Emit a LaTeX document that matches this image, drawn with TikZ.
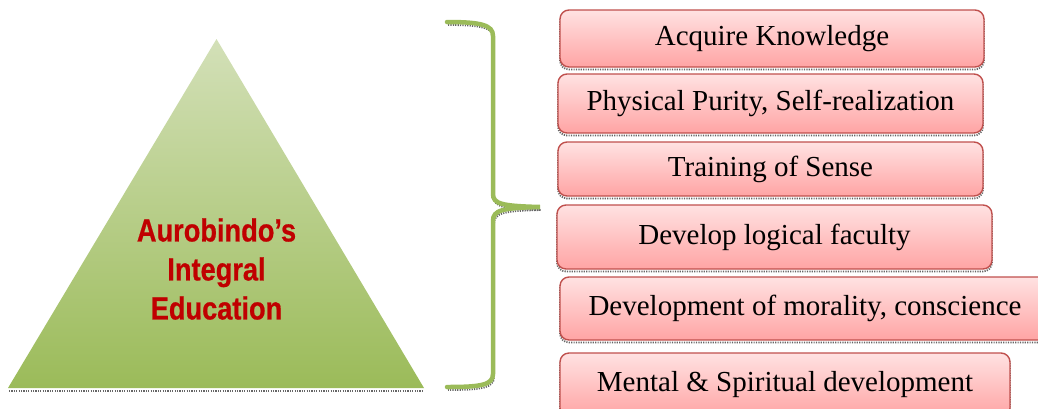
\documentclass[tikz,border=0pt]{standalone}
\usepackage{fontspec}
\setmainfont{Liberation Serif}
\newfontfamily\pyrfont[FakeStretch=0.85, FakeBold=0.6]{Liberation Sans}
\usepackage{xcolor}
\usetikzlibrary{positioning}

\definecolor{leafgreen}{HTML}{9BBB59}
\definecolor{leaflight}{HTML}{D3E0B8}
\definecolor{boxred}{HTML}{C0504D}
\definecolor{boxtop}{HTML}{FFE2E2}
\definecolor{boxbottom}{HTML}{FFA4A4}
\definecolor{titlered}{HTML}{C00000}

\tikzset{
  shadow dots/.style={draw=black!60, line width=1.8pt, dash pattern=on 1.2pt off 1.2pt},
  shade line/.style={preaction={shadow dots, transform canvas={yshift=-2.5pt}}},
  goalbox/.style={shade line, draw=boxred, line width=1.4pt, rounded corners=9pt,
    top color=boxtop, bottom color=boxbottom, inner sep=0pt,
    font=\fontsize{29}{34}\selectfont},
  bracket/.style={draw=leafgreen, line width=4.5pt, line cap=round,
    preaction={shadow dots, transform canvas={yshift=-3pt,xshift=1pt}}},
}

\begin{document}
\begin{tikzpicture}[x=1pt, y=-1pt]
            \useasboundingbox (0,0) rectangle (1038,408);

            % pyramid
            \draw[shadow dots] (9,391) -- (424,391);
            \shade[top color=leaflight, bottom color=leafgreen] (216.5,39) -- (424,388) -- (8,388) -- cycle;
            \node[align=center, inner sep=0pt, text=titlered,
                  font=\pyrfont\bfseries\fontsize{32}{39}\selectfont] (title) at (216.5,269)
                  {Aurobindo’s\\Integral\\Education};

            % brace
            \draw[bracket] (447,22) .. controls (481,22) and (493,25) .. (493,36) -- (493,194)
                  .. controls (493,204) and (502,206) .. (540,207)
                  .. controls (502,208) and (493,210) .. (493,221) -- (493,374)
                  .. controls (493,385) and (481,387) .. (447,387);

            % aims
            \node[goalbox, minimum width=424pt, minimum height=57pt] (knowledge) at (772,38.5) {Acquire Knowledge};
            \node[goalbox, minimum width=425pt, minimum height=59pt] (purity) at (770.5,103.5) {Physical Purity, Self-realization};
            \node[goalbox, minimum width=425pt, minimum height=54pt] (sense) at (770.5,169) {Training of Sense};
            \node[goalbox, minimum width=435pt, minimum height=64pt] (logic) at (774.5,237) {Develop logical faculty};
            \node[goalbox, minimum width=490pt, minimum height=63pt] (morality) at (805,308.5) {Development of morality, conscience};
            \node[goalbox, minimum width=450pt, minimum height=64pt] (spirit) at (785,385) {Mental \& Spiritual development};
        \end{tikzpicture}
\end{document}
